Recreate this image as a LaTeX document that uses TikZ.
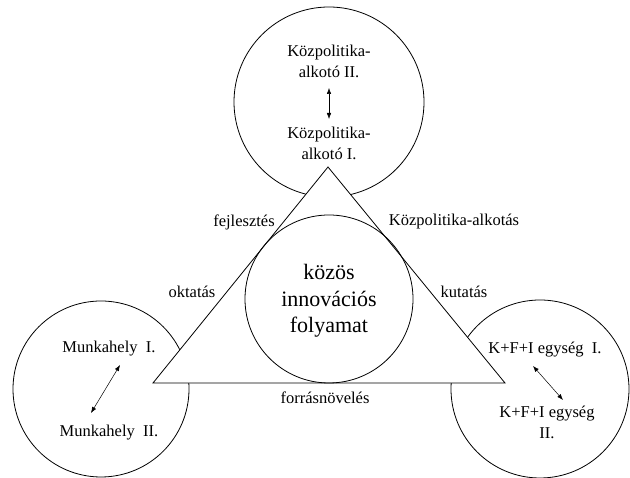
\documentclass[tikz,border=0pt]{standalone}
\usepackage{fontspec}
\setmainfont{Liberation Serif}
\usetikzlibrary{arrows.meta}

\begin{document}
\begin{tikzpicture}[x=1pt,y=1pt,line width=0.8pt,
  lbl/.style={font=\rmfamily\fontsize{16.5}{21}\selectfont,align=center,inner sep=0pt},
  twoway/.style={{Latex[length=6pt,width=4.5pt]}-{Latex[length=6pt,width=4.5pt]},line width=0.5pt}]

\useasboundingbox (0,0) rectangle (630,478);

% Outer circles
\draw (329,376) circle[radius=95pt];
\draw (101,89) circle[radius=88pt];
\draw (540,89) circle[radius=89pt];

% Triangle
\draw[fill=white] (153,95) -- (328,311) -- (505,95) -- cycle;

% Inner circle
\draw (329,179) circle[radius=84pt];
\node[font=\rmfamily\fontsize{22}{26.5}\selectfont,align=center,inner sep=0pt] (kozos) at (329,177) {közös\\innovációs\\folyamat};

% Side labels
\node[lbl] (fejl) at (244,256) {fejlesztés};
\node[lbl] (kpalk) at (454,256) {Közpolitika-alkotás};
\node[lbl] (okt) at (192,186) {oktatás};
\node[lbl] (kut) at (464,186) {kutatás};
\node[lbl] (forr) at (325,80) {forrásnövelés};

% Top circle
\node[lbl] (kpII) at (329,417) {Közpolitika-\\alkotó II.};
\node[lbl] (kpI) at (329,335) {Közpolitika-\\alkotó I.};
\coordinate (kpa) at (329,390);
\coordinate (kpb) at (329,359);
\draw[twoway] (kpa) -- (kpb);

% Left circle
\node[lbl] (mhI) at (109,129) {Munkahely\ \ I.};
\node[lbl] (mhII) at (109,45) {Munkahely\ \ II.};
\coordinate (mha) at (120,113);
\coordinate (mhb) at (91,65);
\draw[twoway] (mha) -- (mhb);

% Right circle
\node[lbl] (kfI) at (545,128) {K+F+I egység\ \ I.};
\node[lbl] (kfII) at (547,56) {K+F+I egység\\II.};
\coordinate (kfa) at (533,112);
\coordinate (kfb) at (563,78);
\draw[twoway] (kfa) -- (kfb);

\end{tikzpicture}
\end{document}
